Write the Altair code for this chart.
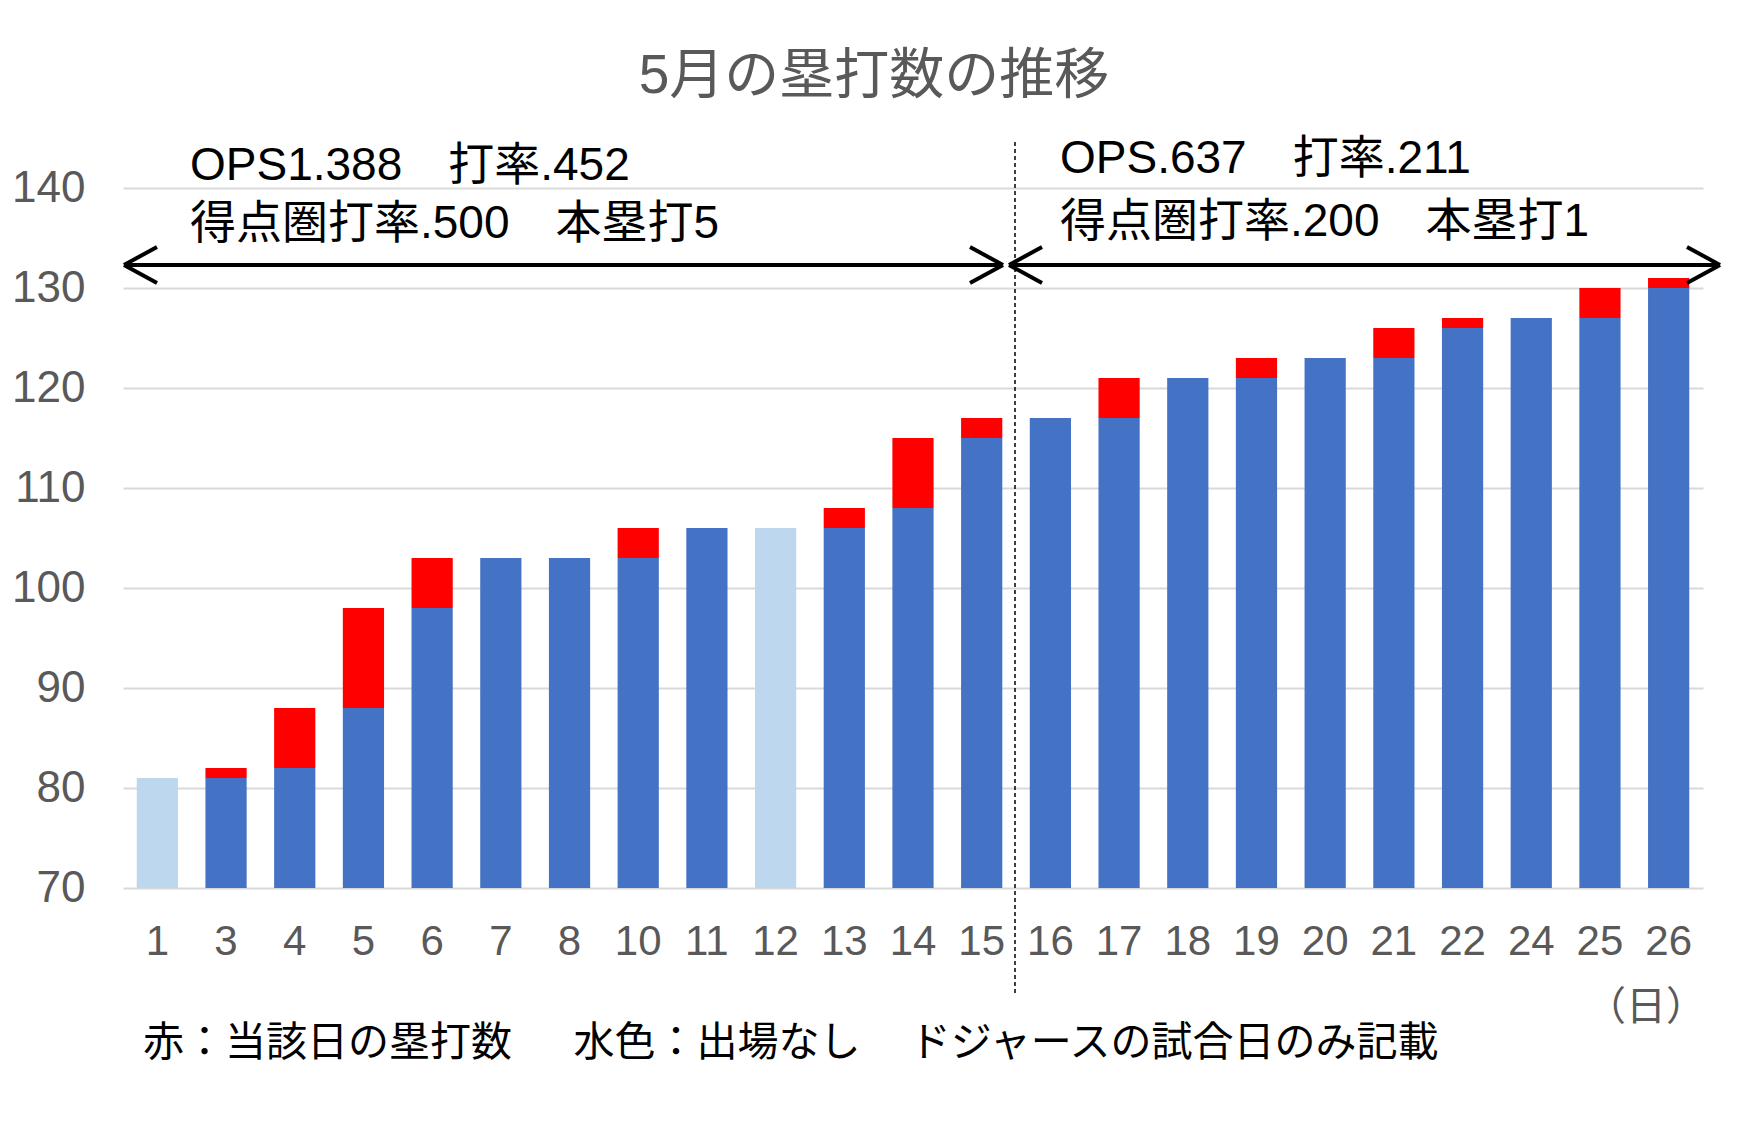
import altair as alt
import pandas as pd

# ---- data ----
days = ["1", "3", "4", "5", "6", "7", "8", "10", "11", "12", "13", "14", "15",
        "16", "17", "18", "19", "20", "21", "22", "24", "25", "26"]
totals = [81, 82, 88, 98, 103, 103, 103, 106, 106, 106, 108, 115, 117,
          117, 121, 121, 123, 123, 126, 127, 127, 130, 131]
daily_tb = [0, 1, 6, 10, 5, 0, 0, 3, 0, 0, 2, 7, 2,
            0, 4, 0, 2, 0, 3, 1, 0, 3, 1]
played = [False, True, True, True, True, True, True, True, True, False, True, True, True,
          True, True, True, True, True, True, True, True, True, True]

title_text = "5月の塁打数の推移"
left_lines = ["OPS1.388　打率.452", "得点圏打率.500　本塁打5"]
right_lines = ["OPS.637　打率.211", "得点圏打率.200　本塁打1"]
note_text = "赤：当該日の塁打数　\u2002水色：出場なし　\u2009ドジャースの試合日のみ記載"
unit_text = "（日）"

Y_MIN, Y_MAX = 70, 140

rows = []
for d, t, r, p in zip(days, totals, daily_tb, played):
    rows.append({"day": d, "status": "played" if p else "absent", "top": t - r, "bottom": Y_MIN})
    if r > 0:
        rows.append({"day": d, "status": "hr", "top": t, "bottom": t - r})
df = pd.DataFrame(rows)

FONT = "Liberation Sans, Noto Sans CJK JP"
JFONT = "Noto Sans CJK JP"
GRAY = "#595959"

bars = alt.Chart(df).mark_bar().encode(
    x=alt.X("day:O", sort=days, title=None,
            scale=alt.Scale(paddingInner=0.4, paddingOuter=0.2),
            axis=alt.Axis(labelAngle=0, labelFont=FONT, labelFontSize=42, labelColor=GRAY,
                          labelPadding=33, ticks=False, domain=False, grid=False)),
    y=alt.Y("top:Q", title=None,
            scale=alt.Scale(domain=[Y_MIN, Y_MAX], nice=False, zero=False),
            axis=alt.Axis(values=list(range(70, 141, 10)), labelFont=FONT, labelFontSize=44,
                          labelColor=GRAY, labelPadding=38, ticks=False, domain=False,
                          grid=True, gridColor="#D9D9D9", gridWidth=2)),
    y2="bottom:Q",
    color=alt.Color("status:N", legend=None,
                    scale=alt.Scale(domain=["played", "absent", "hr"],
                                    range=["#4472C4", "#BDD7EE", "#FF0000"])),
)

one = pd.DataFrame({"a": [0]})


def seg(x1, y1, x2, y2, w=4, dash=None):
    kw = dict(color="black", strokeWidth=w)
    if dash:
        kw["strokeDash"] = dash
    return alt.Chart(one).mark_rule(**kw).encode(
        x=alt.value(x1), x2=alt.value(x2), y=alt.value(y1), y2=alt.value(y2))


def label(txt, x, y, size, color="black", align="left", baseline="alphabetic", font=FONT):
    return alt.Chart(one).mark_text(
        text=txt, align=align, baseline=baseline, fontSize=size, font=font, color=color
    ).encode(x=alt.value(x), y=alt.value(y))


AY = 77
layers = [bars,
          # dashed divider
          seg(892, -46, 892, 807, w=1.5, dash=[4, 3]),
          # left arrow
          seg(1, AY, 880, AY), seg(1, AY, 34, AY - 18), seg(1, AY, 34, AY + 18),
          seg(880, AY, 847, AY - 18), seg(880, AY, 847, AY + 18),
          # right arrow
          seg(886, AY, 1597, AY), seg(886, AY, 919, AY - 18), seg(886, AY, 919, AY + 18),
          seg(1597, AY, 1564, AY - 18), seg(1597, AY, 1564, AY + 18),
          # texts
          label(title_text, 751, -112, 55, color=GRAY, align="center", baseline="middle"),
          label(left_lines[0], 67, -8, 46),
          label(left_lines[1], 67, 50, 46),
          label(right_lines[0], 937, -15, 46),
          label(right_lines[1], 937, 48, 46),
          label(note_text, 20, 856, 41, baseline="middle", font=JFONT),
          label(unit_text, 1523, 820, 40, color=GRAY, align="center", baseline="middle", font=JFONT),
          ]

chart = alt.layer(*layers).properties(
    width=1580, height=700,
    padding={"left": 115, "top": 180, "right": 38, "bottom": 240},
    autosize=alt.AutoSizeParams(type="none"),
    background="white",
).configure_view(stroke=None)

chart.save("out.html", embed_options={"renderer": "svg", "actions": False})
